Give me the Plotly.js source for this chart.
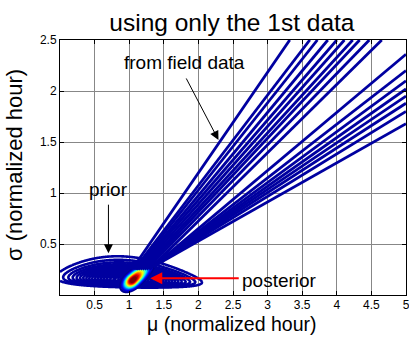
<!DOCTYPE html>
<html><head><meta charset="utf-8">
<script src="https://cdn.plot.ly/plotly-3.0.1.min.js"></script>
<style>html,body{margin:0;padding:0;background:#fff;}#chart{width:409px;height:343px;}</style>
</head><body><div id="chart"></div>
<script>
// ---------- data ----------
const xTickVals = [0.5, 1, 1.5, 2, 2.5, 3, 3.5, 4, 4.5, 5];
const xTickText = ['0.5', '1', '1.5', '2', '2.5', '3', '3.5', '4', '4.5', '5'];
const yTickVals = [0.5, 1, 1.5, 2, 2.5];
const yTickText = ['0.5', '1', '1.5', '2', '2.5'];

// "from field data" contour lines, steep band: (mu at sigma=0.25) -> (mu at sigma=2.5)
const fieldA_bottomMu = [1.04, 1.07, 1.09, 1.11, 1.13, 1.16, 1.19, 1.22, 1.25, 1.29];
const fieldA_topMu    = [3.32, 3.61, 3.72, 3.87, 4.00, 4.11, 4.23, 4.33, 4.47, 4.65];
const fieldA_sigma    = [0.25, 2.5];
// shallow band: from (1.35, 0.28) to sigma value at mu = 5
const fieldB_bottom   = [1.35, 0.28];
const fieldB_rightSigma = [2.36, 2.20, 2.10, 2.02, 1.95, 1.88, 1.80, 1.68];
const fieldB_rightMu  = 5;

// prior: normal in mu, skewed (inverse-gamma like) in sigma
const priorMuCenter = 1.0, priorMuSd = 0.49;
const priorSigmaMode = 0.15, priorSigmaTilt = -0.025, priorSigmaShape = 7.3;
const priorLevels = {start: 0.1, end: 0.95, size: 0.05};

// posterior: skewed, tilted peak
const postCenter = [1.05, 0.145];
const postAngleDeg = 42;
const postSpreadUpper = 0.172, postSpreadLower = 0.088, postSpreadAcross = 0.05;
const postLevels = {start: 0.05, end: 0.95, size: 0.05};

// ---------- build grids ----------
function range(a, b, step) { const r = []; for (let v = a; v <= b + 1e-9; v += step) r.push(+v.toFixed(5)); return r; }

const priorX = range(0, 2.5, 0.01), priorY = range(0.01, 0.6, 0.004);
const priorZ = priorY.map(s => priorX.map(m => {
  const sm = priorSigmaMode + priorSigmaTilt * (m - priorMuCenter);
  const r = s / sm;
  const g = 1 - Math.log(r) - 1 / r;
  return Math.exp(-Math.pow(m - priorMuCenter, 2) / (2 * priorMuSd * priorMuSd) + priorSigmaShape * g);
}));

const ratio = 0.0098 / 0.0144; // sigma-per-pixel / mu-per-pixel of the frame
const th = postAngleDeg * Math.PI / 180;
const postX = range(0.6, 1.8, 0.004), postY = range(0, 0.55, 0.002);
const postZ = postY.map(s => postX.map(m => {
  const X = (m - postCenter[0]);
  const Y = (s - postCenter[1]) / ratio;
  const p = X * Math.cos(th) + Y * Math.sin(th);
  const q = -X * Math.sin(th) + Y * Math.cos(th);
  const Lp = p > 0 ? postSpreadUpper : postSpreadLower;
  return Math.exp(-0.5 * (p * p / (Lp * Lp) + q * q / (postSpreadAcross * postSpreadAcross)));
}));

const darkBlue = 'rgb(0,0,160)';
const traces = [];
fieldA_topMu.forEach((t, i) => traces.push({
  type: 'scatter', mode: 'lines', x: [fieldA_bottomMu[i], t], y: fieldA_sigma,
  line: {color: darkBlue, width: 2.8}, hoverinfo: 'skip', showlegend: false
}));
fieldB_rightSigma.forEach(s => traces.push({
  type: 'scatter', mode: 'lines', x: [fieldB_bottom[0], fieldB_rightMu], y: [fieldB_bottom[1], s],
  line: {color: darkBlue, width: 2.8}, hoverinfo: 'skip', showlegend: false
}));
traces.push({
  type: 'contour', x: priorX, y: priorY, z: priorZ, showscale: false, hoverinfo: 'skip',
  contours: Object.assign({coloring: 'lines', showlabels: false}, priorLevels),
  colorscale: [[0, darkBlue], [1, darkBlue]], line: {width: 2.6, smoothing: 1}
});
const jet = [[0, 'rgb(0,0,143)'], [0.125, 'rgb(0,0,255)'], [0.375, 'rgb(0,255,255)'],
             [0.625, 'rgb(255,255,0)'], [0.875, 'rgb(255,0,0)'], [1, 'rgb(128,0,0)']];
traces.push({
  type: 'contour', x: postX, y: postY, z: postZ, showscale: false, hoverinfo: 'skip',
  contours: Object.assign({coloring: 'lines', showlabels: false}, postLevels),
  colorscale: jet, line: {width: 2.4, smoothing: 1}
});

const font = 'Liberation Sans, Arial, sans-serif';
const axisCommon = {
  ticks: 'inside', ticklen: 4, tickcolor: '#000', showline: true, linecolor: '#000', linewidth: 1,
  mirror: 'ticks', showgrid: true, gridcolor: 'rgb(135,135,135)', gridwidth: 1, zeroline: false,
  tickfont: {family: font, size: 12, color: '#000'}, ticklabeloverflow: 'allow'
};
const layout = {
  width: 409, height: 343,
  margin: {l: 60, r: 3, t: 40, b: 48},
  paper_bgcolor: '#fff', plot_bgcolor: '#fff',
  showlegend: false,
  title: {text: 'using only the 1st data', font: {family: font, size: 24.5, color: '#000'},
          x: 0.567, xanchor: 'center', y: 0.935, yanchor: 'middle'},
  xaxis: Object.assign({range: [0, 5], tickvals: xTickVals, ticktext: xTickText, ticklabelstandoff: -1}, axisCommon),
  yaxis: Object.assign({range: [0, 2.5], tickvals: yTickVals, ticktext: yTickText}, axisCommon),
  annotations: [
    {text: 'μ (normalized hour)', xref: 'paper', yref: 'paper', x: 0.497, y: -0.112,
     xanchor: 'center', yanchor: 'middle', showarrow: false, font: {family: font, size: 19.5, color: '#000'}},
    {text: 'σ (normalized hour)', xref: 'paper', yref: 'paper', x: -0.13, y: 0.51, textangle: -90,
     xanchor: 'center', yanchor: 'middle', showarrow: false, font: {family: font, size: 22, color: '#000'}},
    {text: 'from field data', x: 1.794, y: 2.275, xref: 'x', yref: 'y', showarrow: false,
     font: {family: font, size: 19, color: '#000'}},
    {text: '', x: 2.29, y: 1.52, xref: 'x', yref: 'y', ax: -33, ay: -63, showarrow: true,
     arrowhead: 2, arrowsize: 1.8, arrowwidth: 1, arrowcolor: '#000'},
    {text: 'prior', x: 0.699, y: 1.03, xref: 'x', yref: 'y', showarrow: false,
     font: {family: font, size: 19, color: '#000'}},
    {text: '', x: 0.70, y: 0.41, xref: 'x', yref: 'y', ax: 0, ay: -50, showarrow: true,
     arrowhead: 2, arrowsize: 1.8, arrowwidth: 1, arrowcolor: '#000'},
    {text: 'posterior', x: 3.177, y: 0.147, xref: 'x', yref: 'y', showarrow: false,
     font: {family: font, size: 19, color: '#000'}},
    {text: '', x: 1.304, y: 0.164, xref: 'x', yref: 'y', ax: 90, ay: 0, showarrow: true,
     arrowhead: 2, arrowsize: 1.2, arrowwidth: 2, arrowcolor: '#ff0000'}
  ]
};
Plotly.newPlot('chart', traces, layout, {staticPlot: true, displayModeBar: false});
</script></body></html>
